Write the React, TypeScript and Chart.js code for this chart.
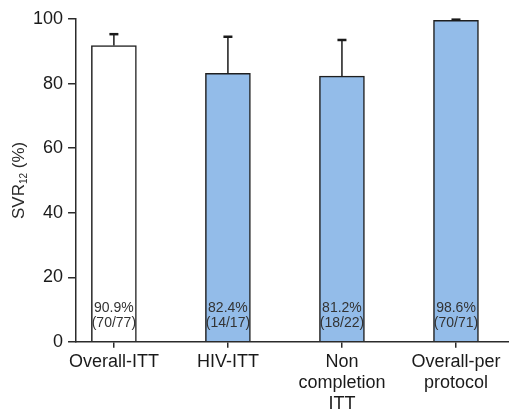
import React, { useEffect, useRef } from "react";
import { Chart, registerables } from "chart.js";

Chart.register(...registerables);

const categories: string[][] = [["Overall-ITT"], ["HIV-ITT"], ["Non", "completion", "ITT"], ["Overall-per", "protocol"]];
const svrValues = [91.8, 83.2, 82.3, 99.6];
const errorUpper = [95.3, 94.5, 93.5, 99.8];
const pctLabels = ["90.9%", "82.4%", "81.2%", "98.6%"];
const countLabels = ["(70/77)", "(14/17)", "(18/22)", "(70/71)"];
const barColors = ["#ffffff", "#93bce9", "#93bce9", "#93bce9"];
const yTicks = [0, 20, 40, 60, 80, 100];

const FONT = "'Liberation Sans', Arial, sans-serif";
const INK = "#2b2b2b";

const overlayPlugin = {
  id: "overlay",
  afterDatasetsDraw(chart: any) {
    const ctx = chart.ctx;
    const xs = chart.scales.x;
    const ys = chart.scales.y;
    ctx.save();
    ctx.strokeStyle = "#1a1a1a";
    svrValues.forEach((v, i) => {
      const x = xs.getPixelForValue(i);
      const y0 = ys.getPixelForValue(v);
      const y1 = ys.getPixelForValue(errorUpper[i]);
      ctx.lineWidth = 1.5;
      ctx.beginPath();
      ctx.moveTo(x, y0);
      ctx.lineTo(x, y1);
      ctx.stroke();
      ctx.lineWidth = 2.5;
      ctx.beginPath();
      ctx.moveTo(x - 4.5, y1);
      ctx.lineTo(x + 4.5, y1);
      ctx.stroke();
    });
    ctx.fillStyle = "#333333";
    ctx.font = `14px ${FONT}`;
    ctx.textAlign = "center";
    ctx.textBaseline = "middle";
    const base = ys.getPixelForValue(0);
    svrValues.forEach((_, i) => {
      const x = xs.getPixelForValue(i);
      ctx.fillText(pctLabels[i], x, base - 34);
      ctx.fillText(countLabels[i], x, base - 19);
    });
    const cy = (chart.chartArea.top + chart.chartArea.bottom) / 2;
    ctx.translate(19, cy);
    ctx.rotate(-Math.PI / 2);
    ctx.fillStyle = INK;
    ctx.textBaseline = "middle";
    ctx.textAlign = "left";
    const big = `17px ${FONT}`;
    const small = `10px ${FONT}`;
    ctx.font = big;
    const w1 = ctx.measureText("SVR").width;
    const w3 = ctx.measureText(" (%)").width;
    ctx.font = small;
    const w2 = ctx.measureText("12").width;
    const total = w1 + w2 + w3;
    let px = -total / 2;
    ctx.font = big;
    ctx.fillText("SVR", px, 0);
    px += w1;
    ctx.font = small;
    ctx.fillText("12", px, 5);
    px += w2;
    ctx.font = big;
    ctx.fillText(" (%)", px, 0);
    ctx.restore();
  },
};

export default function App() {
  const ref = useRef<HTMLCanvasElement | null>(null);
  useEffect(() => {
    if (!ref.current) return;
    const chart = new Chart(ref.current, {
      type: "bar",
      data: {
        datasets: [
          {
            data: svrValues.map((v, i) => ({ x: i, y: v })),
            backgroundColor: barColors,
            borderColor: "#1f1f1f",
            borderWidth: 1.5,
            barThickness: 45,
          },
        ],
      },
      options: {
        responsive: false,
        animation: false,
        maintainAspectRatio: false,
        layout: { padding: { left: 28, top: 19, right: 0, bottom: -3 } },
        plugins: { legend: { display: false }, tooltip: { enabled: false } },
        scales: {
          x: {
            type: "linear",
            offset: false,
            min: -0.332,
            max: 3.465,
            afterBuildTicks: (scale: any) => {
              scale.ticks = categories.map((_, i) => ({ value: i }));
            },
            grid: {
              offset: false,
              drawOnChartArea: false,
              drawTicks: true,
              tickLength: 6,
              color: INK,
              lineWidth: 1.5,
            },
            border: { color: INK, width: 1.5 },
            ticks: {
              autoSkip: false,
              maxRotation: 0,
              padding: 4,
              color: "#1a1a1a",
              font: { family: FONT, size: 18, lineHeight: 1.17 },
              callback: (v: any) => categories[v as number] ?? "",
            },
          },
          y: {
            min: 0,
            max: 100,
            afterBuildTicks: (scale: any) => {
              scale.ticks = yTicks.map((v) => ({ value: v }));
            },
            grid: {
              drawOnChartArea: false,
              drawTicks: true,
              tickLength: 8,
              color: INK,
              lineWidth: 1.5,
            },
            border: { color: INK, width: 1.5 },
            ticks: {
              padding: 5,
              color: "#1a1a1a",
              font: { family: FONT, size: 18 },
            },
          },
        },
      },
      plugins: [overlayPlugin],
    } as any);
    return () => chart.destroy();
  }, []);
  return (
    <div style={{ position: "fixed", left: 0, top: 0, width: 509, height: 416, background: "#fff" }}>
      <canvas ref={ref} width={509} height={416} style={{ width: 509, height: 416 }} />
    </div>
  );
}
